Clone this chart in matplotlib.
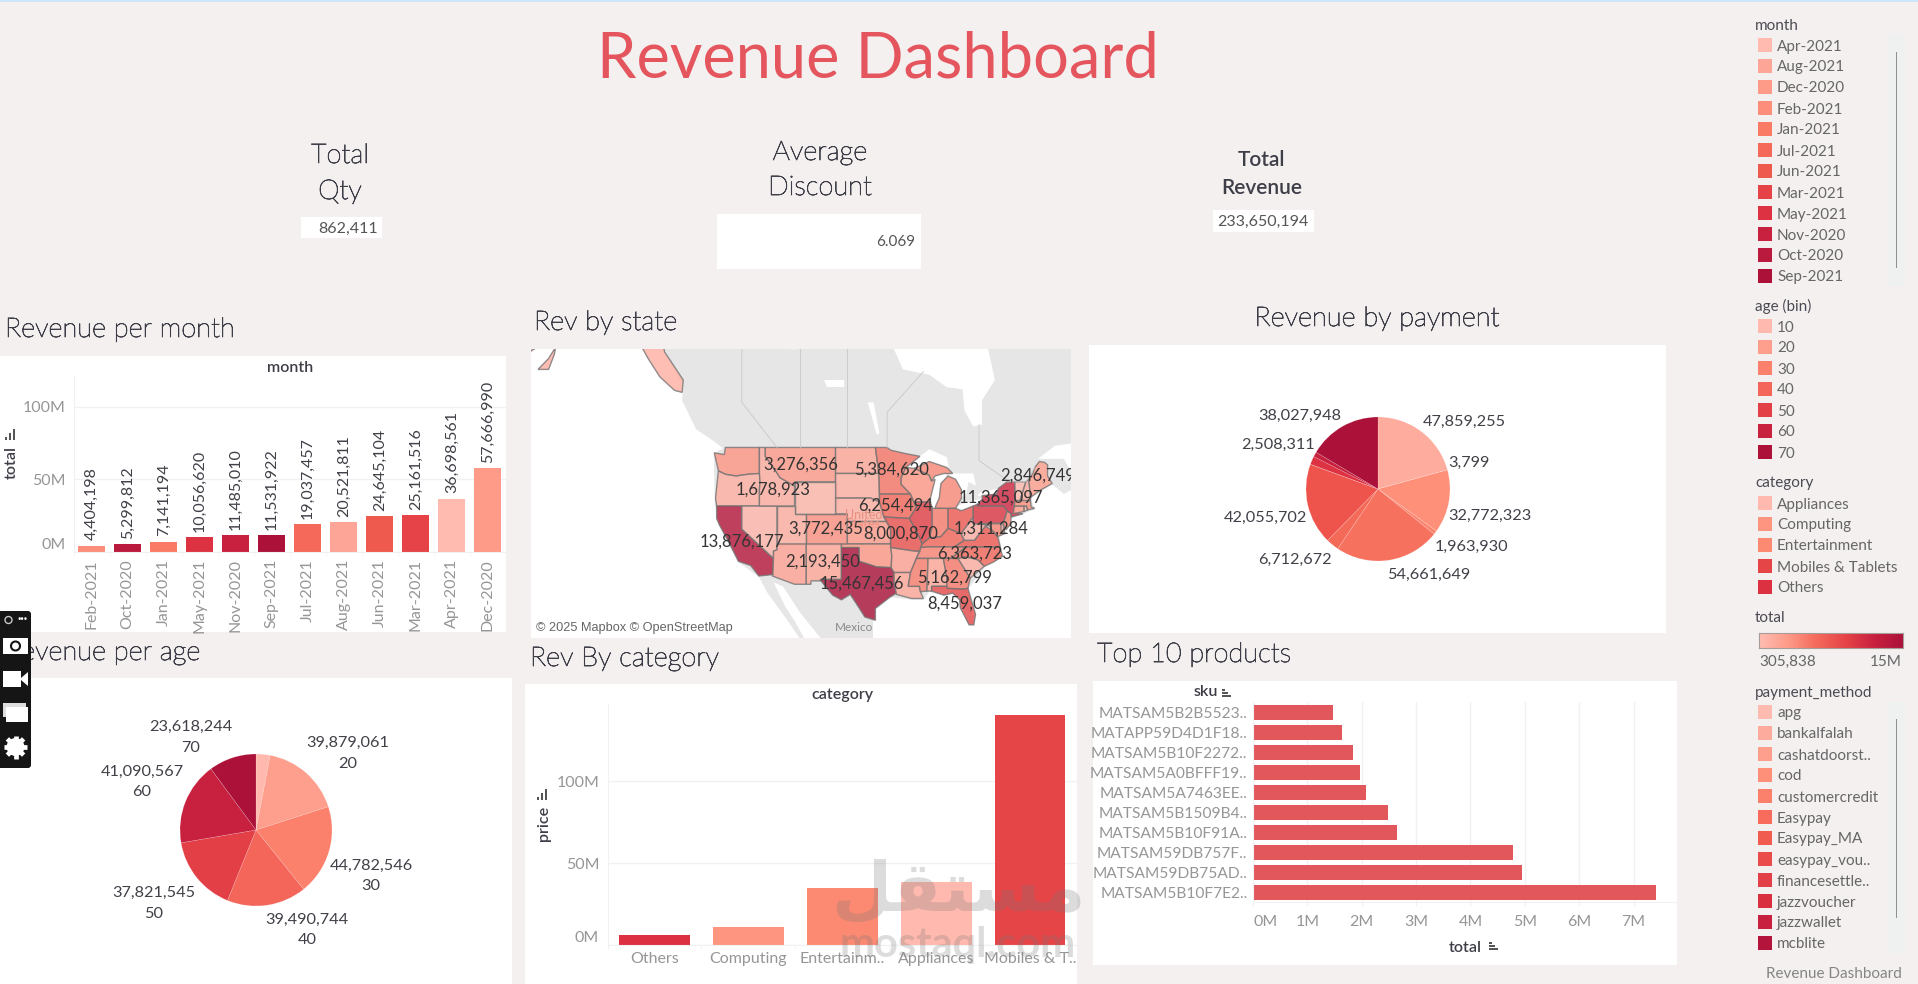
import numpy as np
import matplotlib
matplotlib.use("Agg")
import matplotlib.pyplot as plt
import matplotlib.patheffects as pe
from matplotlib.colors import LinearSegmentedColormap, Normalize
from matplotlib.patches import Rectangle, FancyBboxPatch, Circle, Polygon

W, H = 1918, 984
BG = "#f4f0f0"
DARK = "#3e3e48"
GREY = "#969696"
LEG = "#666666"
GRID = "#f1f1f1"
NUM = "#404048"

# kpis
total_qty = "862,411"
avg_discount = "6.069"
total_revenue = "233,650,194"

# revenue per month
months = ["Feb-2021", "Oct-2020", "Jan-2021", "May-2021", "Nov-2020", "Sep-2021",
          "Jul-2021", "Aug-2021", "Jun-2021", "Mar-2021", "Apr-2021", "Dec-2020"]
month_rev = [4404198, 5299812, 7141194, 10056620, 11485010, 11531922,
             19037457, 20521811, 24645104, 25161516, 36698561, 57666990]
month_legend = ["Apr-2021", "Aug-2021", "Dec-2020", "Feb-2021", "Jan-2021", "Jul-2021",
                "Jun-2021", "Mar-2021", "May-2021", "Nov-2020", "Oct-2020", "Sep-2021"]
month_colors = ["#ffbbb0", "#fda597", "#fe9a88", "#fd8e7b", "#f97b66", "#f4695a",
                "#ef5a4f", "#e54347", "#dc3242", "#c8203f", "#ba1a3d", "#ab1139"]

# revenue per age
age_bins = ["10", "20", "30", "40", "50", "60", "70"]
age_rev = [6967487, 39879061, 44782546, 39490744, 37821545, 41090567, 23618244]
age_colors = ["#ffb9ae", "#fd9f8c", "#fb816c", "#f4655a", "#e33f47", "#c8203f", "#ab1139"]

# revenue by payment (slices without a label are read off the angle)
payment_rev = [47859255, 3799, 32772323, 1963930, 54661649, 6712672, 42055702,
               50000, 4300000, 2508311, 38027948]
payment_colors = ["#feac9d", "#fea392", "#fe9079", "#fb8670", "#f7715f", "#f46a58", "#ee534c",
                  "#e23f47", "#dc3242", "#c8203f", "#ab1139"]
payment_legend = ["apg", "bankalfalah", "cashatdoorst..", "cod", "customercredit", "Easypay",
                  "Easypay_MA", "easypay_vou..", "financesettle..", "jazzvoucher", "jazzwallet", "mcblite"]
payment_legend_colors = ["#ffbbb0", "#fdab9c", "#fd9f8c", "#fe9079", "#fb816c", "#f76c5c",
                         "#f05c50", "#ea4c4c", "#e33f47", "#d8303f", "#c8203f", "#b3143b"]

# category
categories = ["Others", "Computing", "Entertainm..", "Appliances", "Mobiles & T.."]
category_rev = [6.1e6, 11.0e6, 34.8e6, 38.4e6, 140.2e6]
category_colors = ["#dc3140", "#fe9580", "#fc8a72", "#ffb9ae", "#e64547"]
category_legend = ["Appliances", "Computing", "Entertainment", "Mobiles & Tablets", "Others"]
category_legend_colors = ["#ffb9ae", "#fe9580", "#fc8a72", "#e64547", "#dc3140"]

# top products
skus = ["MATSAM5B2B5523..", "MATAPP59D4D1F18..", "MATSAM5B10F2272..", "MATSAM5A0BFFF19..",
        "MATSAM5A7463EE..", "MATSAM5B1509B4..", "MATSAM5B10F91A..", "MATSAM59DB757F..",
        "MATSAM59DB75AD..", "MATSAM5B10F7E2.."]
sku_rev = [1.47e6, 1.63e6, 1.84e6, 1.96e6, 2.08e6, 2.49e6, 2.65e6, 4.78e6, 4.95e6, 7.42e6]

# state totals, the ones with no label are guessed from their colour
state_rev = {
    "WA": 3.6e6, "OR": 1.6e6, "CA": 13876177, "NV": 0.9e6, "ID": 1678923, "MT": 3276356,
    "WY": 0.8e6, "UT": 1.6e6, "CO": 3772435, "AZ": 2.6e6, "NM": 2193450, "ND": 2.2e6,
    "SD": 1.5e6, "NE": 1.4e6, "KS": 3.0e6, "OK": 3.4e6, "TX": 15467456, "MN": 5384620,
    "IA": 6254494, "MO": 8000870, "AR": 2.6e6, "LA": 2.2e6, "WI": 3.3e6, "IL": 9.4e6,
    "IN": 5.0e6, "MI": 4.2e6, "MIU": 4.2e6, "OH": 7.2e6, "KY": 6.4e6, "TN": 4.5e6,
    "MS": 5.0e6, "AL": 2.1e6, "GA": 5162799, "FL": 8459037, "SC": 1.6e6, "NC": 6363723,
    "VA": 7.4e6, "WV": 1311284, "PA": 10.1e6, "MD": 4.6e6, "DE": 1.4e6, "NJ": 5.0e6,
    "NY": 11365097, "CT": 3.2e6, "RI": 1.2e6, "MA": 4.0e6, "VT": 0.7e6, "NH": 1.6e6,
    "ME": 2846749, "AK": 1.6e6, "AK2": 1.6e6, "AK3": 1.6e6,
}
map_labels = [("3,276,356", -109.9, 47.0), ("1,678,923", -114.7, 44.1), ("5,384,620", -94.4, 46.4),
              ("2,846,749", -69.5, 45.7), ("11,365,097", -75.7, 43.0), ("6,254,494", -93.8, 42.0),
              ("3,772,435", -105.7, 39.0), ("8,000,870", -92.8, 38.4), ("1,311,284", -77.4, 39.0),
              ("13,876,177", -120.0, 37.3), ("6,363,723", -80.3, 35.6), ("2,193,450", -106.2, 34.5),
              ("5,162,799", -83.7, 32.3), ("15,467,456", -99.5, 31.4), ("8,459,037", -81.9, 28.5)]

# rough state outlines, lon/lat
states = {
    "WA": [(-124.7, 48.4), (-123, 48.2), (-122.8, 49), (-117, 49), (-117, 46), (-119, 45.9), (-121, 45.7), (-122.8, 45.9), (-124, 46.3)],
    "OR": [(-124, 46.3), (-122.8, 45.9), (-121, 45.7), (-119, 45.9), (-117, 46), (-116.9, 45), (-117, 44), (-117, 42), (-124.3, 42), (-124.5, 43)],
    "CA": [(-124.3, 42), (-120, 42), (-120, 39), (-114.6, 35), (-114.7, 32.7), (-117.1, 32.5), (-118.5, 34), (-120.6, 34.6), (-122, 36.9), (-123.8, 39.5), (-124.3, 40.4)],
    "NV": [(-120, 42), (-114, 42), (-114, 36.2), (-114.6, 36), (-114.6, 35), (-120, 39)],
    "ID": [(-117, 49), (-116, 49), (-116, 48), (-114.5, 46.6), (-113.5, 45.5), (-111, 44.5), (-111, 42), (-117, 42), (-117, 44), (-116.9, 45), (-117, 46)],
    "MT": [(-116, 49), (-104, 49), (-104, 45), (-111, 45), (-111, 44.5), (-113.5, 45.5), (-114.5, 46.6), (-116, 48)],
    "WY": [(-111, 45), (-104, 45), (-104, 41), (-111, 41)],
    "UT": [(-114, 42), (-111, 42), (-111, 41), (-109, 41), (-109, 37), (-114, 37)],
    "CO": [(-109, 41), (-102, 41), (-102, 37), (-109, 37)],
    "AZ": [(-114.6, 36), (-114, 36.2), (-114, 37), (-109, 37), (-109, 31.3), (-111, 31.3), (-114.8, 32.5), (-114.7, 32.7), (-114.6, 35)],
    "NM": [(-109, 37), (-103, 37), (-103, 32), (-106.6, 32), (-106.5, 31.8), (-108.2, 31.8), (-108.2, 31.3), (-109, 31.3)],
    "ND": [(-104, 49), (-97.2, 49), (-96.6, 46), (-104, 46)],
    "SD": [(-104, 46), (-96.6, 46), (-96.5, 42.5), (-98, 43), (-104, 43)],
    "NE": [(-104, 43), (-98, 43), (-96.5, 42.5), (-95.3, 40), (-102, 40), (-102, 41), (-104, 41)],
    "KS": [(-102, 40), (-95.3, 40), (-94.6, 39), (-94.6, 37), (-102, 37)],
    "OK": [(-103, 37), (-94.6, 37), (-94.4, 35.4), (-94.5, 33.7), (-97, 33.8), (-100, 34.6), (-100, 36.5), (-103, 36.5)],
    "TX": [(-106.6, 32), (-103, 32), (-103, 36.5), (-100, 36.5), (-100, 34.6), (-97, 33.8), (-94.5, 33.7), (-94, 33), (-94, 31.5), (-93.6, 30), (-94.7, 29.4), (-97.2, 27.7), (-97.2, 25.9), (-99, 26.4), (-100.5, 28.5), (-101.5, 29.8), (-103, 29), (-104.5, 29.7), (-106.5, 31.8)],
    "MN": [(-97.2, 49), (-95.2, 49), (-94.6, 48.7), (-92, 48.3), (-89.6, 48), (-92, 46.7), (-92.8, 45.5), (-92.8, 44.7), (-91.2, 43.5), (-96.5, 43.5), (-96.6, 46)],
    "IA": [(-96.5, 43.5), (-91.2, 43.5), (-90.2, 41.8), (-91.4, 40.4), (-95.8, 40.6), (-96.5, 42.5)],
    "MO": [(-95.8, 40.6), (-91.4, 40.4), (-90.2, 38.8), (-89.2, 37), (-89.6, 36), (-90.4, 36), (-94.6, 36.5), (-94.6, 39), (-95.3, 40)],
    "AR": [(-94.6, 36.5), (-90.4, 36), (-89.7, 36), (-91.2, 33), (-94, 33), (-94.5, 33.7), (-94.4, 35.4)],
    "LA": [(-94, 33), (-91.2, 33), (-91.6, 31), (-89.7, 31), (-89.5, 30.2), (-89, 29.2), (-91, 29.2), (-93.6, 29.8), (-94, 31.5)],
    "WI": [(-92, 46.7), (-90.5, 46.6), (-88, 45.8), (-87.6, 45.1), (-87, 45.3), (-87.8, 43), (-87.8, 42.5), (-90.6, 42.5), (-91.2, 43.5), (-92.8, 44.7), (-92.8, 45.5)],
    "IL": [(-90.6, 42.5), (-87.8, 42.5), (-87.5, 41.7), (-87.5, 39.3), (-88, 37.8), (-89.2, 37), (-90.2, 38.8), (-91.4, 40.4), (-90.2, 41.8)],
    "IN": [(-87.5, 41.7), (-84.8, 41.7), (-84.8, 39.1), (-86, 38), (-88, 37.8), (-87.5, 39.3)],
    "MI": [(-87, 41.75), (-84.8, 41.7), (-83.5, 41.7), (-82.5, 43), (-82.5, 44), (-83.5, 45.3), (-84.8, 45.7), (-86, 44.8), (-86.3, 43), (-86.9, 42)],
    "MIU": [(-90.5, 46.6), (-88, 47.4), (-85, 46.7), (-84, 46), (-85.5, 46), (-87, 45.7), (-87.6, 45.1), (-88, 45.8)],
    "OH": [(-84.8, 41.7), (-83.5, 41.7), (-82.5, 41.4), (-80.5, 42), (-80.5, 40.6), (-81.7, 39.3), (-82.6, 38.4), (-84.8, 39.1)],
    "KY": [(-89.2, 37), (-88, 37.8), (-86, 38), (-84.8, 39.1), (-82.6, 38.4), (-82, 37.5), (-83.7, 36.6), (-88, 36.6), (-89.5, 36.5)],
    "TN": [(-90.2, 35), (-89.6, 36), (-89.5, 36.5), (-88, 36.6), (-83.7, 36.6), (-81.7, 36.6), (-84.3, 35)],
    "MS": [(-91.2, 33), (-90.2, 35), (-88.2, 35), (-88.4, 30.3), (-89.5, 30.2), (-89.7, 31), (-91.6, 31)],
    "AL": [(-88.2, 35), (-85.6, 35), (-85, 32.3), (-85, 31), (-87.6, 31), (-87.6, 30.3), (-88.4, 30.3)],
    "GA": [(-85.6, 35), (-83.1, 35), (-81, 32.2), (-81.4, 30.7), (-82.2, 30.6), (-84.9, 30.7), (-85, 31), (-85, 32.3)],
    "FL": [(-87.6, 31), (-85, 31), (-84.9, 30.7), (-82.2, 30.6), (-81.4, 30.7), (-80.1, 26.8), (-80.4, 25.2), (-81.2, 25.2), (-82.7, 27.8), (-82.8, 29), (-84, 30), (-85.5, 29.7), (-87.6, 30.3)],
    "SC": [(-83.1, 35), (-82, 35.2), (-81, 35.1), (-79.7, 34.8), (-78.6, 33.9), (-81, 32.2)],
    "NC": [(-84.3, 35), (-81.7, 36.6), (-75.9, 36.6), (-75.5, 35.3), (-77, 34.5), (-78.6, 33.9), (-79.7, 34.8), (-81, 35.1), (-82, 35.2), (-83.1, 35)],
    "VA": [(-83.7, 36.6), (-82, 37.5), (-80.3, 37.5), (-78.4, 39.4), (-77.2, 38.8), (-76.3, 37.9), (-76, 37), (-75.9, 36.6), (-81.7, 36.6)],
    "WV": [(-82.6, 38.4), (-81.7, 39.3), (-80.5, 40.6), (-80.5, 39.7), (-79.5, 39.7), (-77.8, 39.5), (-78.4, 39.4), (-80.3, 37.5), (-82, 37.5)],
    "PA": [(-80.5, 42), (-79.8, 42.2), (-79.8, 42), (-75.3, 42), (-74.7, 41.4), (-75.4, 39.8), (-80.5, 39.7)],
    "MD": [(-79.5, 39.7), (-75.8, 39.7), (-75.1, 38.4), (-76.3, 38), (-77.2, 38.8), (-77.8, 39.5)],
    "DE": [(-75.8, 39.7), (-75.4, 39.8), (-75.1, 38.5), (-75.7, 38.5)],
    "NJ": [(-74.7, 41.4), (-74, 41), (-74.1, 39.7), (-74.9, 38.9), (-75.4, 39.6)],
    "NY": [(-79.8, 42.2), (-78.9, 42.9), (-79, 43.3), (-76.5, 43.5), (-76.2, 44.2), (-74.7, 45), (-73.4, 45), (-73.3, 42.7), (-73.5, 41.2), (-72, 41), (-74, 40.6), (-74, 41), (-74.7, 41.4), (-75.3, 42), (-79.8, 42)],
    "CT": [(-73.5, 42), (-71.8, 42), (-71.8, 41.3), (-73.7, 41)],
    "RI": [(-71.8, 42), (-71.4, 42), (-71.2, 41.5), (-71.8, 41.3)],
    "MA": [(-73.4, 42.7), (-71.3, 42.7), (-70.7, 42.6), (-70.6, 41.9), (-70, 41.7), (-71.2, 41.5), (-71.4, 42), (-73.5, 42)],
    "VT": [(-73.4, 45), (-71.5, 45), (-72.5, 42.7), (-73.3, 42.7)],
    "NH": [(-71.5, 45), (-71, 45.3), (-70.7, 43.1), (-70.7, 42.7), (-72.5, 42.7)],
    "ME": [(-71, 45.3), (-70.3, 46), (-70, 46.7), (-69.2, 47.4), (-68.3, 47.3), (-67.8, 47), (-67.8, 45.7), (-67, 44.8), (-69, 44), (-70.7, 43.1)],
    "AK": [(-137.6, 61), (-134, 61), (-133.2, 58.6), (-130, 56), (-130.2, 54.8), (-131.5, 55), (-134, 56.3), (-136, 58), (-137.6, 59.5)],
    "AK2": [(-156.5, 60), (-153.5, 60), (-155, 59), (-156.5, 58.5)],
    "AK3": [(-154.8, 57), (-153, 58), (-151.8, 59), (-152, 58.4), (-153, 57)],
}
land = [
    [(-134, 62), (-133.2, 58.6), (-130, 55.5), (-130.2, 54), (-127.8, 51), (-125, 49.8), (-123.2, 48.9), (-124.8, 48.3),
     (-124.6, 42), (-124, 40), (-122.3, 37), (-120.5, 34.4), (-117.1, 32.4), (-115.6, 30), (-112.3, 26), (-109.7, 22.5), (-109.4, 23.2),
     (-111, 25.8), (-112.6, 28), (-114.6, 31.6), (-113, 31), (-110, 27), (-106, 22.5), (-97.6, 22.5), (-97.6, 25.9),
     (-97.2, 27.7), (-94.7, 29.4), (-91, 29), (-89, 29), (-88, 30.2), (-85.5, 29.6), (-84, 29.9), (-82.8, 29), (-81.2, 25.1), (-80.3, 25.1),
     (-81.3, 30.7), (-78.5, 33.8), (-75.5, 35.2), (-76, 38), (-74, 40.4), (-70, 41.6), (-70.7, 43), (-67, 44.7), (-65, 43.5), (-61, 45.2),
     (-60, 46.8), (-63.8, 46.2), (-65, 47.7), (-69.5, 47.7), (-66.5, 49.2), (-62, 49.6), (-60, 51), (-55, 52), (-55, 62)],
]
water = [
    [(-92, 46.7), (-89.6, 48), (-88, 48.8), (-85, 47.9), (-84.6, 46.5), (-85, 46.7), (-88, 47.4), (-90.5, 46.6)],
    [(-87.8, 42.5), (-87.5, 41.7), (-87, 41.75), (-86.3, 43), (-86, 44.8), (-84.8, 45.7), (-85.5, 46), (-87, 45.7), (-87.6, 45.1), (-87, 45.3), (-87.8, 43)],
    [(-84.8, 45.7), (-83.5, 45.3), (-82.5, 44), (-82.5, 43), (-81.7, 43.5), (-81.3, 45), (-80, 44.5), (-80.5, 46), (-84, 46)],
    [(-83.5, 41.7), (-82.5, 41.4), (-80.5, 42), (-78.9, 42.9), (-80.5, 42.7), (-83, 42.1)],
    [(-79.8, 43.3), (-79, 43.3), (-76.5, 43.5), (-76.2, 44.2), (-77.5, 44), (-79.3, 43.7)],
    [(-95, 61), (-94, 58.8), (-92.5, 57), (-88, 56.5), (-85, 55.3), (-82.3, 55.1), (-82, 53), (-80.5, 51.3), (-79, 51.5), (-79, 54), (-76.8, 56), (-78, 59), (-77.5, 61)],
    [(-98.5, 53.8), (-97.5, 53.8), (-96.5, 50.5), (-97, 50.5)],
    [(-112, 59.6), (-109, 59.6), (-109, 59), (-111.5, 58.8)],
    [(-106, 56), (-102.5, 56), (-102.5, 55.3), (-105.5, 55.3)],
]
borders = [
    [(-120, 60.5), (-120, 53.8), (-114, 49)],
    [(-110, 60.5), (-110, 49)],
    [(-102, 60.5), (-102, 49)],
    [(-95.2, 49), (-95.2, 52.8), (-89, 56.8)],
    [(-79.5, 51.5), (-79.5, 47.5), (-74.7, 45.2)],
    [(-70, 46.7), (-71.5, 45), (-74.7, 45)],
]

state_cmap = LinearSegmentedColormap.from_list(
    "rev", ["#ffbdb2", "#fe9a88", "#f4695a", "#e54347", "#c8203f", "#ab1139"])


def merc(lat):
    return np.degrees(np.log(np.tan(np.radians(45 + np.asarray(lat) / 2))))


def project(points):
    pts = np.array(points, dtype=float)
    return np.column_stack([pts[:, 0], merc(pts[:, 1])])


def ax_px(left, top, right, bottom, **kw):
    return fig.add_axes([left / W, 1 - bottom / H, (right - left) / W, (bottom - top) / H], **kw)


def box(x0, y0, x1, y1, color="white", target=None, **kw):
    (target or bg).add_patch(Rectangle((x0, y0), x1 - x0, y1 - y0, facecolor=color, edgecolor="none", **kw))


def label(x, y, s, size=11, color=DARK, ha="center", weight="normal", target=None, **kw):
    return (target or bg).text(x, y + 1.5, s, fontsize=size, color=color, ha=ha, va="center", weight=weight, **kw)


def heading(x, y, s, ha="left"):
    # the only lighter Lato cut here is very thin, so it gets a fine stroke
    t = label(x, y, s, size=19.6, color=DARK, ha=ha, weight="light")
    t.set_path_effects([pe.withStroke(linewidth=0.55, foreground=DARK)])
    return t


def style_axes(ax):
    ax.set_facecolor("none")
    for side in ["top", "right"]:
        ax.spines[side].set_visible(False)
    for side in ["left", "bottom"]:
        ax.spines[side].set_color(GRID)
    ax.set_axisbelow(True)


def bar_panel(ax, values, names, colors, width, ymax, yticks):
    pos = np.arange(len(values))
    ax.bar(pos, values, width=width, color=colors)
    ax.set_xlim(-0.5, len(values) - 0.5)
    ax.set_ylim(0, ymax)
    ax.set_yticks(yticks)
    ax.set_yticklabels(["%dM" % (t / 1e6) for t in yticks], color=GREY, fontsize=11.5)
    ax.get_yticklabels()[0].set_va("bottom")
    ax.set_xticks(pos - 0.5, minor=True)
    ax.set_xticks(pos)
    ax.tick_params(axis="x", which="major", length=0, pad=5)
    ax.tick_params(axis="x", which="minor", length=3, color=GRID)
    ax.tick_params(axis="y", length=0, pad=6)
    ax.grid(axis="y", color=GRID, lw=1)
    style_axes(ax)


def pie_panel(cx, cy, r, values, colors):
    ax = ax_px(cx - r, cy - r, cx + r, cy + r)
    ax.pie(values, colors=colors, startangle=90, counterclock=False, radius=1,
           wedgeprops={"linewidth": 0.3, "edgecolor": "#ffffff55"})
    ax.set_xlim(-1, 1)
    ax.set_ylim(-1, 1)
    return ax


def legend_block(title, names, colors, title_y, first_y):
    label(1755, title_y, title, size=11, color="#4a4a52", ha="left")
    for i, (n, c) in enumerate(zip(names, colors)):
        y = first_y + i * 21
        box(1758, y - 7, 1772, y + 7, c)
        label(1777, y, n, size=11, color=LEG, ha="left")


def sort_icon_v(x, y):
    for i, h in enumerate([3, 7, 11]):
        box(x + i * 4, y - h, x + i * 4 + 2.4, y, "#555555", target=fg)


def sort_icon_h(x, y):
    for i, w in enumerate([3, 6, 9]):
        box(x, y + i * 3.2, x + w, y + i * 3.2 + 1.6, "#555555", target=fg)


plt.rcParams["font.family"] = ["Lato", "DejaVu Sans"]
fig = plt.figure(figsize=(W / 100, H / 100), dpi=100, facecolor=BG)

bg = fig.add_axes([0, 0, 1, 1], zorder=0)
bg.set_xlim(0, W)
bg.set_ylim(H, 0)
bg.axis("off")
fg = fig.add_axes([0, 0, 1, 1], zorder=20, facecolor="none")
fg.set_xlim(0, W)
fg.set_ylim(H, 0)
fg.axis("off")

box(0, 0, W, 1.5, "#cfe6fa")

# white cards
box(0, 356, 506, 632)
box(531, 349, 1071, 638)
box(1089, 345, 1666, 633)
box(0, 678, 512, 984)
box(525, 684, 1077, 984)
box(1093, 681, 1677, 965)

label(878, 58, "Revenue Dashboard", size=45.5, color="#e4555d")

# kpis
heading(340, 154, "Total", ha="center")
heading(340, 190, "Qty", ha="center")
box(301, 217, 382, 238)
label(378, 227, total_qty, size=11.5, color="#555555", ha="right")
heading(820, 151, "Average", ha="center")
heading(820, 186, "Discount", ha="center")
box(717, 214, 921, 269)
label(915, 240, avg_discount, size=11, color="#555555", ha="right")
label(1262, 158, "Total", size=15, weight="semibold")
label(1262, 187, "Revenue", size=15, weight="semibold")
box(1213, 210, 1314, 232)
label(1263, 220, total_revenue, size=11.5, color="#555555")

# section titles
heading(5, 328, "Revenue per month")
heading(534, 321, "Rev by state")
heading(1377, 317, "Revenue by payment", ha="center")
heading(5, 651, "Revenue per age")
heading(530, 657, "Rev By category")
heading(1097, 653, "Top 10 products")

# revenue per month
ax = ax_px(73.7, 376, 506, 552)
bar_panel(ax, month_rev, months, [month_colors[month_legend.index(m)] for m in months], 0.75, 121e6,
          [0, 50e6, 100e6])
ax.set_xticklabels(months, rotation=90, color=GREY, fontsize=11.5)
for i, v in enumerate(month_rev):
    ax.annotate(format(v, ","), (i, v), xytext=(0, 4), textcoords="offset points", rotation=90,
                ha="center", va="bottom", fontsize=11.5, color=NUM)
label(290, 366, "month", size=11.5, weight="semibold")
label(12, 461, "total", size=11.5, weight="semibold", rotation=90)
sort_icon_v(5, 440)

# map
ax = ax_px(531, 349, 1071, 638)
ax.set_xlim(-156, -63.8)
ax.set_ylim(23.8, 73.2)
ax.axis("off")
for poly in land:
    ax.add_patch(Polygon(project(poly), facecolor="#e6e6e6", edgecolor="none"))
for line in borders:
    pts = project(line)
    ax.plot(pts[:, 0], pts[:, 1], color="#c8c8c8", lw=0.6)
for poly in water:
    ax.add_patch(Polygon(project(poly), facecolor="white", edgecolor="none"))
norm = Normalize(305838, 15e6)
for code, poly in states.items():
    ax.add_patch(Polygon(project(poly), facecolor=state_cmap(norm(state_rev[code])), edgecolor="#757575",
                         lw=1.0, alpha=0.8))
ax.text(-99.2, merc(40.9), "United", fontsize=9, color="#e88f80", ha="center", va="center")
ax.text(-99.2, merc(39.7), "States", fontsize=9, color="#e88f80", ha="center", va="center")
for s, lon, lat in map_labels:
    ax.text(lon, merc(lat), s, fontsize=12, color="#333333", ha="center", va="center", clip_on=True)
ax.text(-100.8, merc(23.9), "Mexico", fontsize=8.5, color="#8a8a8a", ha="center", va="bottom", clip_on=True)
label(536, 627, "© 2025 Mapbox © OpenStreetMap", size=9.2, color="#666666", ha="left", family="Liberation Sans",
      target=fg, bbox=dict(facecolor="#ffffff", alpha=0.65, edgecolor="none", pad=2))

# revenue by payment
pie_panel(1378, 489, 72, payment_rev, payment_colors)
payment_text = [("47,859,255", 1464, 420), ("3,799", 1469, 461), ("32,772,323", 1490, 514),
                ("1,963,930", 1472, 545), ("54,661,649", 1429, 573), ("6,712,672", 1295, 558),
                ("42,055,702", 1265, 516), ("2,508,311", 1278, 443), ("38,027,948", 1300, 414)]
for s, x, y in payment_text:
    label(x, y, s, size=11.7, color=NUM)

# revenue per age
pie_panel(256, 830, 76, age_rev, age_colors)
age_text = [("23,618,244", "70", 191, 725), ("39,879,061", "20", 348, 741), ("41,090,567", "60", 142, 770),
            ("44,782,546", "30", 371, 864), ("37,821,545", "50", 154, 891), ("39,490,744", "40", 307, 918)]
for s, b, x, y in age_text:
    label(x, y, s, size=11.7, color=NUM)
    label(x, y + 21, b, size=11.7, color=NUM)

# revenue by category
ax = ax_px(607.5, 704, 1077, 945)
bar_panel(ax, category_rev, categories, category_colors, 0.755, 147e6, [0, 50e6, 100e6])
ax.set_xticklabels(categories, color=GREY, fontsize=11.5)
label(842, 694, "category", size=11.5, weight="semibold")
label(543.5, 822, "price", size=11.5, weight="semibold", rotation=90)
sort_icon_v(537, 800)

# top products
ax = ax_px(1253, 702, 1677, 902)
pos = np.arange(len(skus))
ax.barh(pos, sku_rev, height=0.75, color="#e2575c")
ax.set_xlim(0, 7.8e6)
ax.set_ylim(len(skus) - 0.5, -0.5)
ax.set_yticks(pos)
ax.set_yticklabels(skus, color=GREY, fontsize=11.2)
xt = np.arange(0, 8) * 1e6
ax.set_xticks(xt)
ax.set_xticklabels(["%dM" % (t / 1e6) for t in xt], color=GREY, fontsize=11.5)
ax.get_xticklabels()[0].set_ha("left")
ax.tick_params(axis="y", length=0, pad=4)
ax.tick_params(axis="x", length=3, color=GRID, pad=6)
ax.grid(axis="x", color=GRID, lw=1)
style_axes(ax)
label(1206, 691, "sku", size=11.5, weight="semibold")
sort_icon_h(1222, 689)
label(1465, 947, "total", size=11.5, weight="semibold")
sort_icon_h(1489, 942)

# legends on the right
box(1888, 35, 1905, 286, "#eff0f0")
box(1895.5, 52, 1896.5, 268, "#8f8f8f")
box(1888, 702, 1905, 953, "#eff0f0")
box(1895.5, 719, 1896.5, 918, "#8f8f8f")
legend_block("month", month_legend, month_colors, 24, 45)
legend_block("age (bin)", age_bins, age_colors, 305, 326)
legend_block("category", category_legend, category_legend_colors, 482, 503)
label(1755, 617, "total", size=11, color="#4a4a52", ha="left")
grad = ax_px(1759, 633, 1903, 648)
grad.imshow(np.linspace(0, 1, 200).reshape(1, -1), aspect="auto", cmap=state_cmap)
grad.set_xticks([])
grad.set_yticks([])
for sp in grad.spines.values():
    sp.set_color("#a89c98")
label(1759, 660, "305,838", size=11, color=LEG, ha="left")
label(1902, 660, "15M", size=11, color=LEG, ha="right")
legend_block("payment_method", payment_legend, payment_legend_colors, 691, 712)
label(1902, 972, "Revenue Dashboard", size=11, color="#858585", ha="right")

# screen recorder toolbar sitting on top of the dashboard
fg.add_patch(FancyBboxPatch((-6, 611), 37, 157, boxstyle="round,pad=0,rounding_size=3", facecolor="#151515", edgecolor="none"))
label(23, 617, "···", size=9, color="white", target=fg, weight="bold")
fg.add_patch(Circle((8.5, 620), 3.5, facecolor="none", edgecolor="#c8c8c8", lw=1))
box(3, 638, 28, 654, "white", target=fg)
fg.add_patch(Circle((15.5, 646), 4.5, facecolor="white", edgecolor="#151515", lw=1.5))
box(3, 671, 21, 687, "white", target=fg)
fg.add_patch(Polygon([(21, 678), (28, 672), (28, 686), (21, 680)], facecolor="white", edgecolor="none"))
box(3, 703, 26, 717, "#dddddd", target=fg)
box(6, 707, 28, 722, "white", target=fg)
for ang in np.arange(0, 180, 45):
    dx, dy = 11.5 * np.cos(np.radians(ang)), 11.5 * np.sin(np.radians(ang))
    fg.plot([15.5 - dx, 15.5 + dx], [747 - dy, 747 + dy], color="white", lw=3.4, solid_capstyle="butt")
fg.add_patch(Circle((15.5, 747), 9, facecolor="white", edgecolor="none"))
fg.add_patch(Circle((15.5, 747), 4, facecolor="#151515", edgecolor="none"))

# site watermark
label(958, 889, "\ufede\ufed8\ufe98\ufeb4\ufee3", size=50, color="#777777", alpha=0.25, weight="bold",
      family="DejaVu Sans", target=fg)
label(958, 943, "mostaql.com", size=30, color="#777777", alpha=0.25, weight="bold", target=fg)

fig.savefig("out.png", dpi=100, facecolor=BG)
